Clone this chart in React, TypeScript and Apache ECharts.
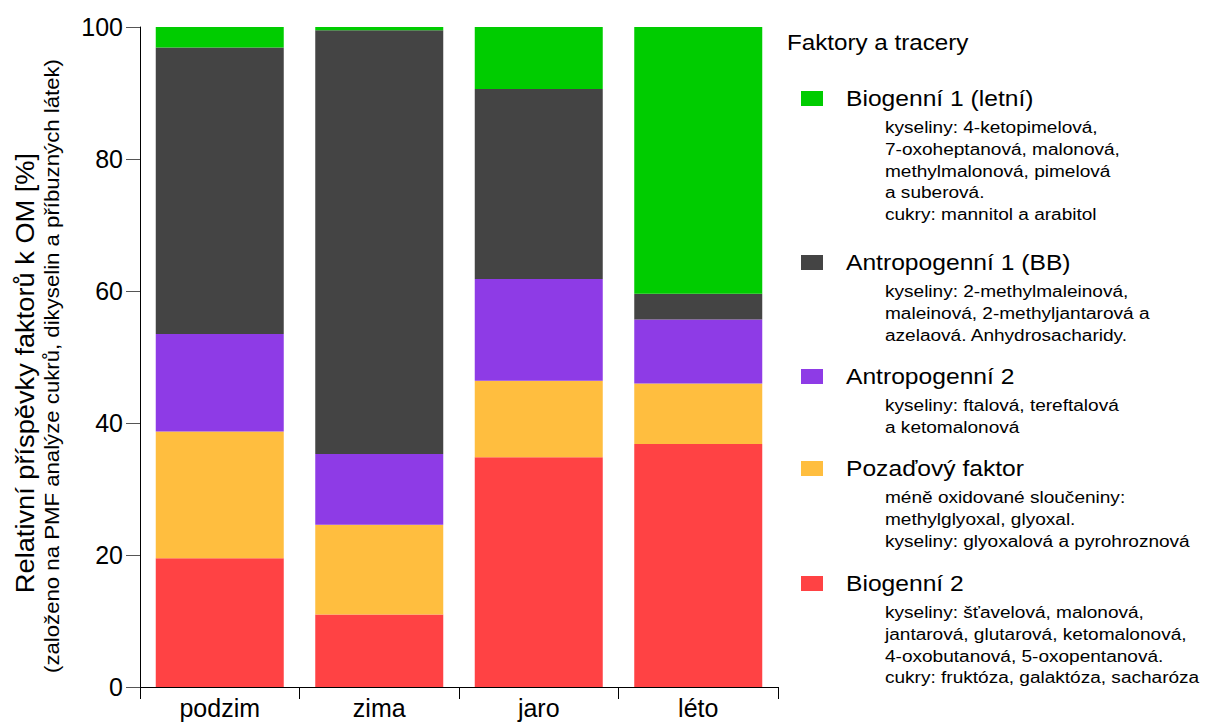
import React, { useEffect, useRef } from "react";
import * as echarts from "echarts";

const categories = ["podzim", "zima", "jaro", "léto"];
const seriesNames = ["Biogenní 2", "Pozaďový faktor", "Antropogenní 2", "Antropogenní 1 (BB)", "Biogenní 1 (letní)"];
const seriesColors = ["#ff4244", "#ffbe3f", "#8e3be6", "#444444", "#00cc00"];
const biogenni2 = [19.5, 11.0, 34.8, 36.8];
const pozadovy = [19.2, 13.6, 11.6, 9.2];
const antropogenni2 = [14.8, 10.7, 15.4, 9.7];
const antropogenni1 = [43.4, 64.2, 28.8, 3.9];
const biogenni1 = [3.1, 0.5, 9.4, 40.4];
const seriesValues = [biogenni2, pozadovy, antropogenni2, antropogenni1, biogenni1];
const yTicks = { min: 0, max: 100, interval: 20 };

const legendTitle = "Faktory a tracery";
const legendOrder = [4, 3, 2, 1, 0];
const legendDetails = [
  ["kyseliny: 4-ketopimelová,", "7-oxoheptanová, malonová,", "methylmalonová, pimelová", "a suberová.", "cukry: mannitol a arabitol"],
  ["kyseliny: 2-methylmaleinová,", "maleinová, 2-methyljantarová a", "azelaová. Anhydrosacharidy."],
  ["kyseliny: ftalová, tereftalová", "a ketomalonová"],
  ["méně oxidované sloučeniny:", "methylglyoxal, glyoxal.", "kyseliny: glyoxalová a pyrohroznová"],
  ["kyseliny: šťavelová, malonová,", "jantarová, glutarová, ketomalonová,", "4-oxobutanová, 5-oxopentanová.", "cukry: fruktóza, galaktóza, sacharóza"],
];
const yTitle = "Relativní příspěvky faktorů k OM [%]";
const ySubtitle = "(založeno na PMF analýze cukrů, dikyselin a příbuzných látek)";

const FONT = "'Liberation Sans', Arial, sans-serif";

export default function App() {
  const ref = useRef<HTMLDivElement>(null);
  useEffect(() => {
    document.body.style.margin = "0";
    const chart = echarts.init(ref.current!, null, { renderer: "svg" });

    const graphics: any[] = [];
    graphics.push({
      type: "text", x: 787, y: 42, scaleX: 1.1,
      style: { text: legendTitle, font: `22px ${FONT}`, fill: "#000", verticalAlign: "middle" },
    });
    const labelYs = [98, 262, 376, 468, 583];
    const lineH = 21.6;
    legendOrder.forEach((si, i) => {
      const ly = labelYs[i];
      graphics.push({ type: "rect", shape: { x: 801, y: ly - 7, width: 22, height: 15 }, style: { fill: seriesColors[si] } });
      graphics.push({
        type: "text", x: 846, y: ly, scaleX: 1.12,
        style: { text: seriesNames[si], font: `22px ${FONT}`, fill: "#000", verticalAlign: "middle" },
      });
      legendDetails[i].forEach((line, j) => {
        graphics.push({
          type: "text", x: 885, y: ly + 30 + j * lineH, scaleX: 1.19,
          style: { text: line, font: `16px ${FONT}`, fill: "#000", verticalAlign: "middle" },
        });
      });
    });
    graphics.push({
      type: "text", x: 25, y: 373, rotation: Math.PI / 2, scaleX: 1.09,
      style: { text: yTitle, font: `25px ${FONT}`, fill: "#000", align: "center", verticalAlign: "middle" },
    });
    graphics.push({
      type: "text", x: 52, y: 366, rotation: Math.PI / 2, scaleX: 1.11,
      style: { text: ySubtitle, font: `20px ${FONT}`, fill: "#000", align: "center", verticalAlign: "middle" },
    });

    chart.setOption({
      animation: false,
      grid: { left: 140, right: 430, top: 27, bottom: 40, containLabel: false },
      xAxis: {
        type: "category",
        data: categories,
        offset: 2,
        axisLine: { lineStyle: { color: "#000", width: 1 } },
        axisTick: { show: true, length: 12, lineStyle: { color: "#000" } },
        axisLabel: { color: "#000", fontSize: 25, lineHeight: 25, fontFamily: FONT, margin: 6 },
      },
      yAxis: {
        type: "value",
        min: yTicks.min, max: yTicks.max, interval: yTicks.interval,
        axisLine: { show: true, lineStyle: { color: "#000", width: 1 } },
        axisTick: { show: true, length: 14, lineStyle: { color: "#555" } },
        axisLabel: { color: "#000", fontSize: 25, fontFamily: FONT, margin: 17 },
        splitLine: { show: false },
      },
      series: seriesNames.map((name, i) => ({
        name,
        type: "bar",
        stack: "total",
        barWidth: 128,
        data: seriesValues[i],
        itemStyle: { color: seriesColors[i] },
      })),
      graphic: graphics,
    });
    return () => chart.dispose();
  }, []);
  return <div ref={ref} style={{ width: 1208, height: 727 }} />;
}
